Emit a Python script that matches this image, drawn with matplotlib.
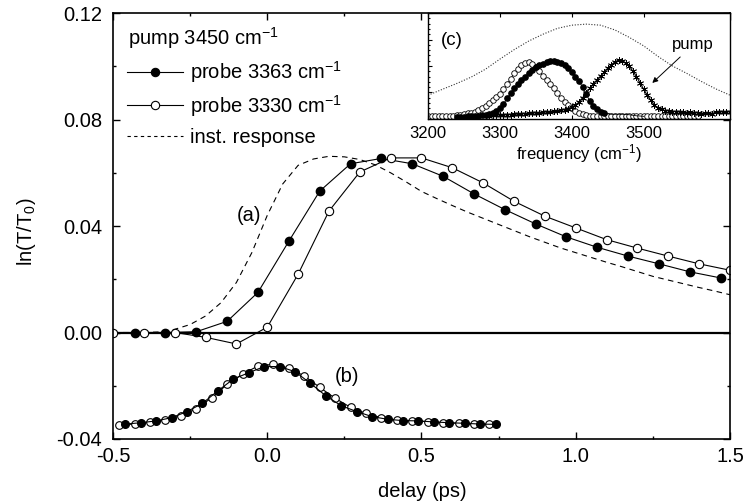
import numpy as np
import matplotlib.pyplot as plt
from matplotlib.ticker import MultipleLocator, FormatStrFormatter

plt.rcParams['font.family'] = ['Liberation Sans', 'DejaVu Sans']
plt.rcParams['mathtext.fontset'] = 'custom'
plt.rcParams['mathtext.rm'] = 'Liberation Sans'
plt.rcParams['mathtext.it'] = 'Liberation Sans:italic'
plt.rcParams['axes.unicode_minus'] = False

# (a) transient, probe 3363 (filled) and probe 3330 (open)
ln_filled_a = [0.0, 0.0, 0.0003, 0.0042, 0.0151, 0.0343, 0.0531, 0.0634, 0.0654, 0.0634,
               0.0587, 0.0521, 0.0462, 0.0408, 0.0359, 0.0320, 0.0287, 0.0258, 0.0228, 0.0205]
delay_filled_a = -0.43 + 0.1 * np.arange(len(ln_filled_a))

ln_open_a = [0.0, 0.0, 0.0, -0.0018, -0.0043, 0.0020, 0.0219, 0.0456, 0.0603, 0.0656, 0.0656,
             0.0619, 0.0562, 0.0493, 0.0437, 0.0393, 0.0349, 0.0317, 0.0287, 0.0258, 0.0234]
delay_open_a = -0.5 + 0.1 * np.arange(len(ln_open_a))

# instrument response (dashed)
inst_response = [0.0, 0.0, 0.0, 0.0002, 0.0012, 0.0030, 0.0062, 0.0112, 0.0188, 0.0300,
                 0.0440, 0.0558, 0.0628, 0.0652, 0.0662, 0.0660, 0.0650, 0.0630, 0.0600, 0.0566,
                 0.0530, 0.0503, 0.0477, 0.0452, 0.0429, 0.0406, 0.0383, 0.0360, 0.0339, 0.0318,
                 0.0300, 0.0282, 0.0264, 0.0247, 0.0229, 0.0211, 0.0197, 0.0183, 0.0169, 0.0156,
                 0.0142]
delay_inst = -0.5 + 0.05 * np.arange(len(inst_response))

# (b) cross correlation
ln_filled_b = [-0.0344, -0.0339, -0.0332, -0.0320, -0.0297, -0.0266, -0.0219, -0.0175, -0.0151,
               -0.0128, -0.0128, -0.0147, -0.0191, -0.0238, -0.0275, -0.0297, -0.0316, -0.0326,
               -0.0331, -0.0332, -0.0336, -0.0339, -0.0341, -0.0344, -0.0345]
delay_filled_b = -0.46 + 0.05 * np.arange(len(ln_filled_b))
ln_open_b = [-0.0347, -0.0344, -0.0337, -0.0329, -0.0312, -0.0287, -0.0245, -0.0195, -0.0156,
             -0.0126, -0.0119, -0.0134, -0.0163, -0.0206, -0.0247, -0.0281, -0.0304, -0.0320,
             -0.0329, -0.0332, -0.0335, -0.0339, -0.0341, -0.0344, -0.0345]
delay_open_b = -0.48 + 0.05 * np.arange(len(ln_open_b))

# (c) spectra, arbitrary units
laser_spec = [0.224, 0.28, 0.335, 0.395, 0.47, 0.565, 0.655, 0.735, 0.80, 0.855, 0.885,
              0.895, 0.885, 0.84, 0.77, 0.69, 0.59, 0.50, 0.43, 0.355, 0.285, 0.225]
freq_laser = 3200 + 20 * np.arange(len(laser_spec))

spec_3330 = [0.025, 0.025, 0.025, 0.026, 0.027, 0.028, 0.030, 0.032, 0.035, 0.040,
             0.045, 0.052, 0.060, 0.070, 0.085, 0.100, 0.124, 0.150, 0.175, 0.205,
             0.240, 0.280, 0.330, 0.380, 0.430, 0.475, 0.510, 0.530, 0.535, 0.520,
             0.490, 0.450, 0.405, 0.370, 0.330, 0.290, 0.245, 0.200, 0.165, 0.135,
             0.100, 0.080, 0.060, 0.045, 0.035, 0.030, 0.028, 0.027, 0.026, 0.026,
             0.025, 0.025, 0.025, 0.025, 0.025, 0.025, 0.025, 0.025, 0.025, 0.025,
             0.025, 0.025, 0.025, 0.025, 0.025, 0.025, 0.025, 0.025, 0.025, 0.025,
             0.025, 0.025, 0.025, 0.025, 0.025, 0.025]
freq_3330 = 3200 + 5 * np.arange(len(spec_3330))

spec_3363 = [0.020, 0.020, 0.022, 0.024, 0.026, 0.028, 0.030, 0.033, 0.038, 0.045,
             0.055, 0.075, 0.100, 0.140, 0.195, 0.245, 0.290, 0.330, 0.365, 0.400,
             0.435, 0.465, 0.490, 0.505, 0.520, 0.535, 0.545, 0.545, 0.540, 0.530,
             0.510, 0.480, 0.440, 0.400, 0.360, 0.300, 0.235, 0.170, 0.120, 0.090,
             0.070, 0.060, 0.050, 0.045, 0.045, 0.045, 0.045, 0.043, 0.040, 0.035,
             0.030, 0.028, 0.025]
freq_3363 = 3240 + 5 * np.arange(len(spec_3363))

spec_pump = [0.030, 0.032, 0.034, 0.035, 0.037, 0.038, 0.040, 0.042, 0.044, 0.046,
             0.048, 0.050, 0.052, 0.055, 0.058, 0.060, 0.063, 0.066, 0.070, 0.074,
             0.078, 0.083, 0.088, 0.095, 0.110, 0.130, 0.160, 0.200, 0.245, 0.290,
             0.330, 0.370, 0.405, 0.440, 0.480, 0.510, 0.540, 0.555, 0.550, 0.530,
             0.500, 0.450, 0.400, 0.340, 0.280, 0.225, 0.175, 0.130, 0.105, 0.090,
             0.080, 0.075, 0.070, 0.070, 0.065, 0.070, 0.060, 0.065, 0.055, 0.060,
             0.050, 0.055, 0.060, 0.050, 0.065, 0.070, 0.065, 0.070, 0.065]
freq_pump = 3280 + 5 * np.arange(len(spec_pump))

fs = 14.5

fig = plt.figure(figsize=(7.46, 5.04), dpi=100)
ax = fig.add_axes([0.1515, 0.129, 0.827, 0.845])

ax.axhline(0, color='black', lw=1.6)
ax.plot(delay_inst, inst_response, color='black', lw=0.8, ls=(0, (5, 4)))
ax.plot(delay_filled_a, ln_filled_a, '-o', color='black', lw=0.8, ms=6, mfc='black', mec='black')
ax.plot(delay_open_a, ln_open_a, '-o', color='black', lw=0.8, ms=6, mfc='white', mec='black', mew=0.8)
ax.plot(delay_open_b, ln_open_b, '-o', color='black', lw=0.8, ms=5.5, mfc='white', mec='black', mew=0.8)
ax.plot(delay_filled_b, ln_filled_b, '-o', color='black', lw=0.8, ms=5.5, mfc='black', mec='black')

ax.text(-0.06, 0.044, '(a)', fontsize=fs, ha='center', va='center')
ax.text(0.26, -0.0167, '(b)', fontsize=fs, ha='center', va='center')

ax.set_xlim(-0.5, 1.5)
ax.set_ylim(-0.04, 0.12)
ax.xaxis.set_major_locator(MultipleLocator(0.5))
ax.xaxis.set_minor_locator(MultipleLocator(0.25))
ax.yaxis.set_major_locator(MultipleLocator(0.04))
ax.yaxis.set_minor_locator(MultipleLocator(0.02))
ax.xaxis.set_major_formatter(FormatStrFormatter('%.1f'))
ax.yaxis.set_major_formatter(FormatStrFormatter('%.2f'))
ax.tick_params(which='both', direction='in', top=True, right=True, labelsize=fs, width=1)
ax.tick_params(which='major', length=5)
ax.tick_params(which='minor', length=2.5)
ax.tick_params(axis='x', pad=6)
ax.tick_params(axis='y', pad=8)
for s in ax.spines.values():
    s.set_linewidth(1.2)

ax.set_xlabel('delay (ps)', fontsize=fs)
ax.set_ylabel('ln(T/T$_0$)', fontsize=fs)
ax.xaxis.set_label_coords(0.502, -0.1)
ax.yaxis.set_label_coords(-0.122, 0.486)

# legend drawn by hand
ax.text(0.0243, 0.925, 'pump 3450 cm$^{-1}$', transform=ax.transAxes, fontsize=fs, va='baseline')
rows = [(0.862, 0.845, 'probe 3363 cm$^{-1}$', '-', 'o', 'black'),
        (0.784, 0.765, 'probe 3330 cm$^{-1}$', '-', 'o', 'white'),
        (0.711, 0.6955, 'inst. response', (0, (3, 3)), None, None)]
for yl, yt, label, ls, mk, mfc in rows:
    ax.plot([0.0227, 0.1135], [yl, yl], transform=ax.transAxes, color='black', lw=0.8, ls=ls)
    if mk:
        ax.plot([0.068], [yl], mk, transform=ax.transAxes, ms=6, mfc=mfc, mec='black', mew=0.8)
    ax.text(0.1248, yt, label, transform=ax.transAxes, fontsize=fs, va='baseline')

# inset (c)
ins = fig.add_axes([0.5737, 0.7639, 0.4048, 0.2103])
ins.plot(freq_laser, laser_spec, color='0.2', lw=0.8, ls=(0, (1, 1.5)))
ins.plot(freq_3330, spec_3330, '-o', color='black', lw=0.6, ms=4, mfc='white', mec='black', mew=0.6)
ins.plot(freq_3363, spec_3363, '-o', color='black', lw=0.6, ms=3.8, mfc='black', mec='black',
         markevery=slice(0, 42))
ins.plot(freq_pump, spec_pump, '-', color='black', lw=0.8, marker=(6, 2, 0), ms=5, mew=0.6)
ins.set_xlim(3200, 3620)
ins.set_ylim(0, 1)
ins.yaxis.set_major_locator(MultipleLocator(0.25))
ins.yaxis.set_minor_locator(MultipleLocator(0.05))
ins.set_xticks([3200, 3300, 3400, 3500])
ins.tick_params(which='both', direction='in', top=True, labelsize=12, width=0.8, pad=5)
ins.tick_params(which='major', length=3)
ins.tick_params(which='minor', length=1.5)
ins.set_yticklabels([])
ins.set_xlabel('frequency (cm$^{-1}$)', fontsize=12, labelpad=1)
ins.text(3233, 0.74, '(c)', fontsize=13.5, ha='center', va='center')
ins.annotate('pump', xy=(3512, 0.34), xytext=(3569, 0.70), fontsize=12, ha='center', va='center',
             arrowprops=dict(arrowstyle='-|>', color='black', lw=0.7, shrinkA=2, shrinkB=0,
                             mutation_scale=8))
for s in ins.spines.values():
    s.set_linewidth(1)

fig.savefig('out.png', dpi=100)
